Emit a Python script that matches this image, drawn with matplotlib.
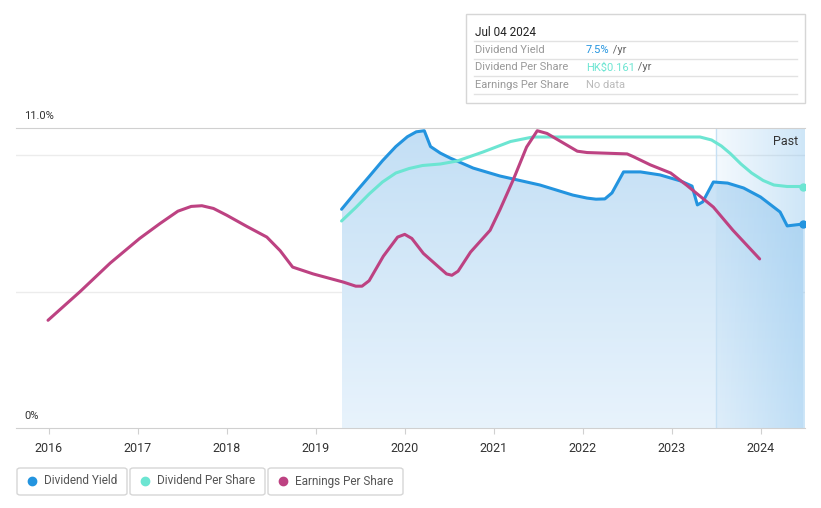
import numpy as np
import matplotlib.pyplot as plt
from matplotlib.patches import FancyBboxPatch, Rectangle
from matplotlib.colors import LinearSegmentedColormap

plt.rcParams['font.family'] = ['Roboto', 'DejaVu Sans']

# dividend yield (%)
dy_x = [2019.29, 2019.45, 2019.60, 2019.75, 2019.90, 2020.03, 2020.13, 2020.22, 2020.29,
        2020.40, 2020.51, 2020.77, 2021.07, 2021.52, 2021.89, 2022.05, 2022.15, 2022.25,
        2022.33, 2022.46, 2022.65, 2022.87, 2023.10, 2023.23, 2023.29, 2023.35, 2023.47,
        2023.63, 2023.81, 2024.00, 2024.22, 2024.30, 2024.48]
dy_y = [8.02, 8.65, 9.22, 9.80, 10.32, 10.68, 10.86, 10.90, 10.32,
        10.08, 9.90, 9.53, 9.24, 8.91, 8.54, 8.43, 8.39, 8.40,
        8.62, 9.39, 9.39, 9.28, 9.06, 8.87, 8.18, 8.29, 9.02,
        8.98, 8.80, 8.47, 7.92, 7.41, 7.48]

# dividend per share (HK$)
dps_x = [2019.29, 2019.45, 2019.60, 2019.75, 2019.90, 2020.05, 2020.20, 2020.40, 2020.59,
         2020.88, 2021.19, 2021.44, 2022.00, 2022.80, 2023.32, 2023.45, 2023.56, 2023.66,
         2023.78, 2023.90, 2024.03, 2024.15, 2024.30, 2024.48]
dps_y = [0.138, 0.147, 0.156, 0.164, 0.170, 0.173, 0.175, 0.176, 0.178,
         0.184, 0.191, 0.194, 0.194, 0.194, 0.194, 0.192, 0.188, 0.183,
         0.176, 0.170, 0.165, 0.162, 0.161, 0.161]

# earnings per share (HK$)
eps_x = [2015.99, 2016.35, 2016.69, 2017.02, 2017.25, 2017.45, 2017.60, 2017.72, 2017.85,
         2018.00, 2018.22, 2018.45, 2018.60, 2018.74, 2018.97, 2019.31, 2019.45, 2019.52,
         2019.60, 2019.76, 2019.92, 2020.00, 2020.08, 2020.21, 2020.47, 2020.53, 2020.60,
         2020.74, 2020.96, 2021.07, 2021.22, 2021.37, 2021.49, 2021.60, 2021.94, 2022.05,
         2022.50, 2022.57, 2022.76, 2022.99, 2023.17, 2023.47, 2023.69, 2023.99]
eps_y = [0.079, 0.100, 0.121, 0.139, 0.150, 0.159, 0.1625, 0.163, 0.161,
         0.156, 0.148, 0.140, 0.130, 0.118, 0.113, 0.107, 0.104, 0.104,
         0.108, 0.126, 0.140, 0.142, 0.139, 0.128, 0.113, 0.112, 0.115,
         0.129, 0.145, 0.160, 0.182, 0.206, 0.218, 0.216, 0.203, 0.202,
         0.201, 0.199, 0.193, 0.187, 0.178, 0.162, 0.145, 0.124]

years = [2016, 2017, 2018, 2019, 2020, 2021, 2022, 2023, 2024]
past_start = 2023.5

c_dy = '#2394df'
c_dps = '#6ce5d2'
c_eps = '#bd4282'

W, H = 821, 508
fig = plt.figure(figsize=(W / 100, H / 100), dpi=100)
ax = fig.add_axes([16 / W, (H - 428) / H, (805 - 16) / W, 300 / H])
xmin, xmax = 2015.63, 2024.5
ymax = 11.0
ax.set_xlim(xmin, xmax)
ax.set_ylim(0, ymax)

# gradient fill under dividend yield
grad = LinearSegmentedColormap.from_list('g', ['#e8f3fc', '#c3dff5'])
img = ax.imshow(np.linspace(0, 1, 256).reshape(-1, 1), cmap=grad, aspect='auto',
                extent=[dy_x[0], dy_x[-1], 0, ymax], origin='lower', zorder=1)
poly = ax.fill_between(dy_x, dy_y, 0, color='none', zorder=1)
img.set_clip_path(poly.get_paths()[0], transform=ax.transData)

# past region shading
past = np.zeros((2, 256, 4))
past[..., 0] = 0.45
past[..., 1] = 0.72
past[..., 2] = 0.92
past[..., 3] = np.linspace(0.08, 0.35, 256)
ax.imshow(past, aspect='auto', extent=[past_start, xmax, 0, ymax], zorder=2)
ax.axvline(past_start, color='#c6e0f4', lw=1, zorder=2)
ax.text(xmax - 0.08, 10.5, 'Past', ha='right', va='center', fontsize=9, color='#333333', zorder=5)

# grid
for g in [5, 10]:
    ax.axhline(g, color='#ececec', lw=1, zorder=0.5)

kw = dict(lw=2.2, solid_joinstyle='round', solid_capstyle='round')
ax.plot(dy_x, dy_y, color=c_dy, zorder=4, **kw)
ax.plot(dy_x[-1], dy_y[-1], 'o', color=c_dy, ms=5, zorder=5)

ax2 = ax.twinx()
ax2.set_ylim(0, 0.2)
ax2.plot(dps_x, dps_y, color=c_dps, zorder=3, **kw)
ax2.plot(dps_x[-1], dps_y[-1], 'o', color=c_dps, ms=5, zorder=5)
ax2.axis('off')

ax3 = ax.twinx()
ax3.set_ylim(0, 0.22)
ax3.plot(eps_x, eps_y, color=c_eps, zorder=3, **kw)
ax3.axis('off')

for s in ['left', 'right']:
    ax.spines[s].set_visible(False)
ax.spines['top'].set_color('#d0d0d0')
ax.spines['bottom'].set_color('#d0d0d0')
ax.set_yticks([])
ax.set_xticks(years)
ax.set_xticklabels([str(y) for y in years], fontsize=9, color='#333333')
ax.tick_params(axis='x', length=4, color='#d0d0d0', pad=6)

fig.text(24 / W, 1 - 116 / H, '11.0%', fontsize=8, color='#333333', va='center')
fig.text(24 / W, 1 - 416 / H, '0%', fontsize=8, color='#333333', va='center')

# tooltip box
fig.patches.append(Rectangle((466 / W, 1 - 103 / H), 339 / W, 89 / H, transform=fig.transFigure,
                             facecolor='white', edgecolor='#d6d6d6', lw=1))
fig.text(475 / W, 1 - 32 / H, 'Jul 04 2024', fontsize=8.5, color='#222222', va='center')
rows = [('Dividend Yield', '7.5%', c_dy, ' /yr'),
        ('Dividend Per Share', 'HK$0.161', c_dps, ' /yr'),
        ('Earnings Per Share', 'No data', '#bbbbbb', '')]
for i, (lab, val, col, suf) in enumerate(rows):
    yy = 1 - (50 + 17.5 * i) / H
    fig.text(475 / W, yy, lab, fontsize=8, color='#999999', va='center')
    t = fig.text(586 / W, yy, val, fontsize=8, color=col, va='center')
    if suf:
        fig.canvas.draw()
        bb = t.get_window_extent()
        fig.text(bb.x1 / W, yy, suf, fontsize=8, color='#666666', va='center')
for ly in [41, 58.5, 76, 93.5]:
    fig.add_artist(plt.Line2D([474 / W, 797 / W], [1 - ly / H, 1 - ly / H], color='#e2e2e2', lw=1))

# legend
legend_items = [('Dividend Yield', c_dy, 17, 127), ('Dividend Per Share', c_dps, 130, 265),
                ('Earnings Per Share', c_eps, 268, 403)]
for lab, col, x0, x1 in legend_items:
    fig.patches.append(FancyBboxPatch((x0 / W, 1 - 495 / H), (x1 - x0) / W, 27 / H,
                                      boxstyle='round,pad=0,rounding_size=0.004',
                                      transform=fig.transFigure, facecolor='white',
                                      edgecolor='#d6d6d6', lw=1))
    fig.add_artist(plt.Line2D([(x0 + 15) / W], [1 - 481 / H], marker='o', ms=6,
                              color=col, transform=fig.transFigure))
    fig.text((x0 + 27) / W, 1 - 481 / H, lab, fontsize=8.5, color='#555555', va='center')

fig.savefig('out.png', dpi=100)
